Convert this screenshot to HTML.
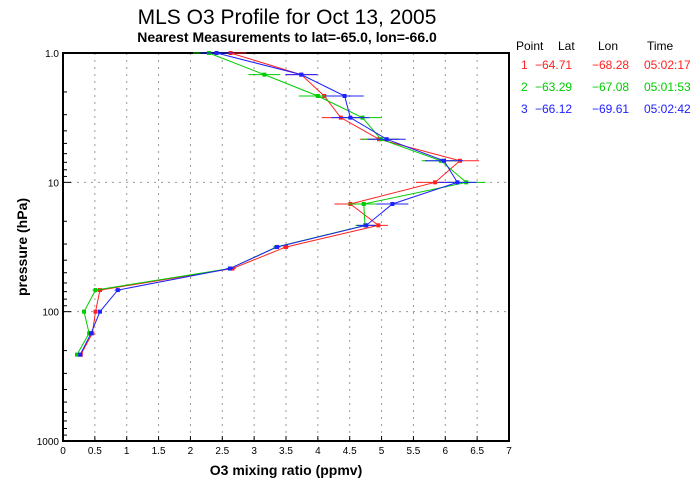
<!DOCTYPE html>
<html><head><meta charset="utf-8"><style>
body{margin:0;background:#fff;width:700px;height:500px;overflow:hidden}
svg{display:block;font-family:"Liberation Sans",sans-serif}
</style></head><body>
<svg id="chart" width="700" height="500">
<text x="287" y="24" font-size="21" text-anchor="middle">MLS O3 Profile for Oct 13, 2005</text>
<text x="287" y="42" font-size="14" font-weight="bold" text-anchor="middle">Nearest Measurements to lat=-65.0, lon=-66.0</text>
<text x="286" y="475" font-size="14" font-weight="bold" text-anchor="middle">O3 mixing ratio (ppmv)</text>
<text x="27" y="247" font-size="14" font-weight="bold" text-anchor="middle" transform="rotate(-90 27 247)">pressure (hPa)</text>
<g id="grid"></g><g id="axes"></g><g id="series"></g>
<g font-size="12">
<g>
<text x="516" y="50">Point</text><text x="558" y="50">Lat</text><text x="598" y="50">Lon</text><text x="647" y="50">Time</text>
</g>
<g fill="#ff2020">
<text x="521" y="69">1</text><text x="535" y="69">−64.71</text><text x="592" y="69">−68.28</text><text x="644" y="69">05:02:17</text>
</g>
<g fill="#00cc00">
<text x="521" y="91">2</text><text x="535" y="91">−63.29</text><text x="592" y="91">−67.08</text><text x="644" y="91">05:01:53</text>
</g>
<g fill="#2020ff">
<text x="521" y="113">3</text><text x="535" y="113">−66.12</text><text x="592" y="113">−69.61</text><text x="644" y="113">05:02:42</text>
</g>
</g>
</svg>
<script>
const pressures=[1,1.47,2.15,3.16,4.64,6.81,10,14.7,21.5,31.6,46.4,68.1,100,147,215];
const red=[2.63,3.74,4.10,4.36,4.96,6.23,5.84,4.51,4.95,3.50,2.66,0.58,0.51,0.46,0.28];
const green=[2.29,3.16,4.00,4.70,4.99,5.93,6.33,4.72,4.74,3.35,2.62,0.51,0.33,0.41,0.22];
const blue=[2.41,3.74,4.42,4.51,5.08,5.98,6.19,5.17,4.76,3.36,2.62,0.86,0.58,0.44,0.27];
const errs=[0.25,0.25,0.3,0.3,0.3,0.3,0.3,0.25,0.15,0.05,0.05,0.05,0.02,0.02,0.02];
const xTicks=["0","0.5","1","1.5","2","2.5","3","3.5","4","4.5","5","5.5","6","6.5","7"];
const yTicks=["1.0","10","100","1000"];
const L=63,R=509,T=53,B=441;
const xs=v=>L+(v/7)*(R-L);
const ys=p=>T+Math.log10(p)/3*(B-T);
const NS="http://www.w3.org/2000/svg";
function mk(tag,attrs,parent){const e=document.createElementNS(NS,tag);for(const k in attrs)e.setAttribute(k,attrs[k]);parent.appendChild(e);return e;}
const grid=document.getElementById('grid'),axes=document.getElementById('axes'),ser=document.getElementById('series');
xTicks.forEach((t,i)=>{const v=parseFloat(t);const x=xs(v);
 if(i>0&&i<xTicks.length-1){const g=mk('line',{x1:x,x2:x,y1:T,y2:B,stroke:'#999','stroke-dasharray':'2,5'},grid);
 
 }
 mk('line',{x1:x,x2:x,y1:B,y2:B-5,stroke:'#000'},axes);
 const tx=mk('text',{x:x,y:B+13,'font-size':10,'text-anchor':'middle'},axes);tx.textContent=t;
 
 
});
yTicks.forEach((t,i)=>{const y=ys(parseFloat(t));
 if(i>0&&i<yTicks.length-1){const g=mk('line',{x1:L,x2:R,y1:y,y2:y,stroke:'#999','stroke-dasharray':'2,5'},grid);
 
 }
 const tx=mk('text',{x:L-4,y:y+4,'font-size':10,'text-anchor':'end'},axes);tx.textContent=t;
 
 
 mk('line',{x1:L,x2:L+8,y1:y,y2:y,stroke:'#000'},axes);
 if(i<yTicks.length-1)for(let m=2;m<10;m++){const yy=ys(parseFloat(t)*m);mk('line',{x1:L,x2:L+4,y1:yy,y2:yy,stroke:'#000'},axes);}
});
const box=mk('rect',{x:L,y:T,width:R-L,height:B-T,fill:'none',stroke:'#000','stroke-width':2},axes);


[[red,'#ff2020','red'],[green,'#00cc00','green'],[blue,'#2020ff','blue']].forEach(([vals,c,n])=>{
 const pts=vals.map((v,i)=>xs(v)+','+ys(pressures[i])).join(' ');
 const pl=mk('polyline',{points:pts,fill:'none',stroke:c,'stroke-width':1},ser);
 
 
 vals.forEach((v,i)=>{const y=ys(pressures[i]);
  mk('line',{x1:xs(v-errs[i]),x2:xs(v+errs[i]),y1:y,y2:y,stroke:c,'stroke-width':1},ser);
  const r=mk('rect',{x:xs(v)-2,y:y-2,width:4,height:4,fill:c},ser);
  
  
 });
});
</script>
</body></html>
